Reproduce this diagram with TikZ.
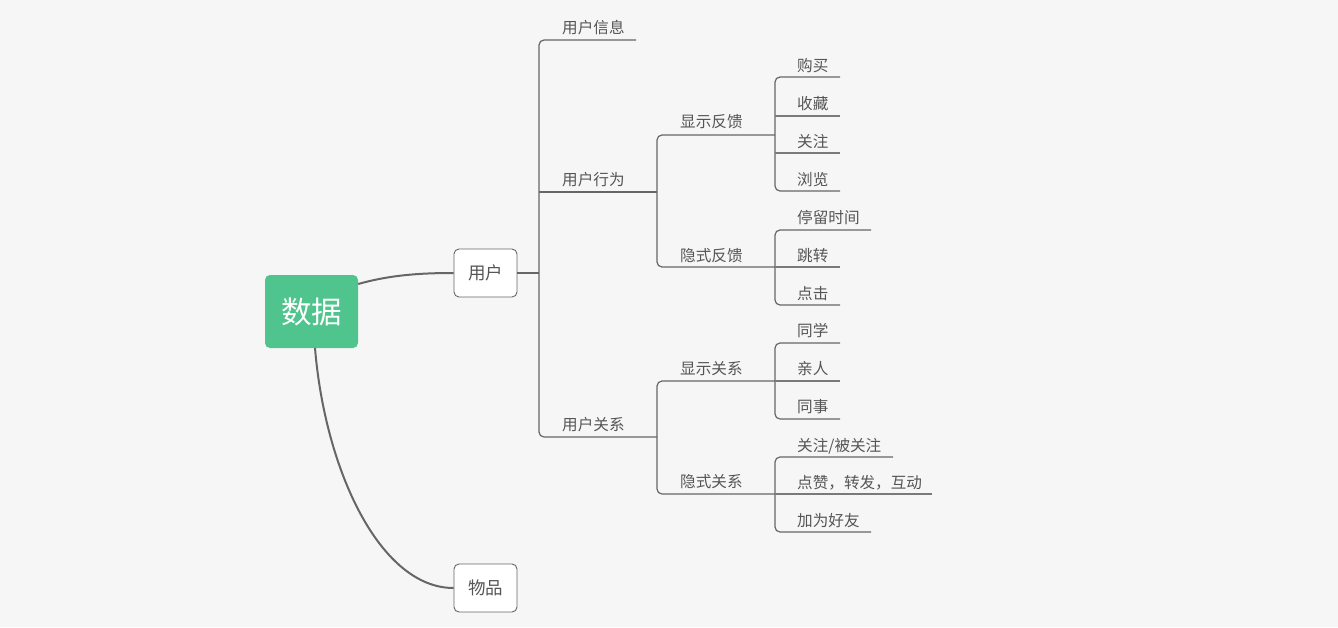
\documentclass[tikz,border=0pt]{standalone}
\usepackage{fontspec}
\newfontfamily\cjk{Noto Sans CJK SC}
\definecolor{bg}{HTML}{F6F6F6}
\definecolor{rootgreen}{HTML}{50C48D}
\definecolor{txt}{HTML}{555555}
\definecolor{ln}{HTML}{666666}
\definecolor{lnlight}{HTML}{7A7A7A}
\begin{document}
\begin{tikzpicture}[x=1pt,y=-1pt,
  lbl/.style={anchor=west,inner sep=0pt,text=txt,font=\cjk\fontsize{15.6}{18}\selectfont},
  branch/.style={draw=ln,line width=1.2pt,rounded corners=5pt},
  thin/.style={draw=ln,line width=1.2pt},
  leafline/.style={draw=lnlight,line width=1.1pt},
  mainline/.style={draw=ln,line width=2pt},
  topbox/.style={draw=ln,fill=white,line width=0.9pt,rounded corners=5pt,minimum width=63pt,minimum height=48pt,inner sep=0pt,text=txt,font=\cjk\fontsize{17.5}{20}\selectfont},
  rootbox/.style={fill=rootgreen,rounded corners=5pt,minimum width=93pt,minimum height=73pt,inner sep=0pt,text=white,font=\cjk\fontsize{30.5}{34}\selectfont}]
\useasboundingbox (0,0) rectangle (1338,627);
\fill[bg] (0,0) rectangle (1338,627);

% main nodes
\node[rootbox] (root) at (311.5,311.5) {数据};
\node[topbox] (user) at (485.5,273) {用户};
\node[topbox] (item) at (485.5,588) {物品};

\draw[mainline] (root.north east |- 0,284) .. controls (390,275) and (420,273) .. (user.west);
\draw[mainline] (315,348) .. controls (325,470) and (380,588) .. (item.west);

% level 2
\coordinate (v2) at (539,273);
\draw[thin] (user.east) -- (v2);
\node[lbl] (info) at (562,28) {用户信息};
\node[lbl] (behav) at (562,180) {用户行为};
\node[lbl] (rel) at (562,425) {用户关系};
\coordinate (infoE) at (636,40);
\coordinate (behavE) at (657,192);
\coordinate (relE) at (657,437);
\draw[branch] (infoE) -- (539,40) -- (539,437) -- (relE);
\draw[thin] (539,192) -- (behavE);

% level 3 under 用户行为
\node[lbl] (xsfk) at (680,122) {显示反馈};
\node[lbl] (ysfk) at (680,256) {隐式反馈};
\coordinate (xsfkE) at (775,135);
\coordinate (ysfkE) at (775,267);
\draw[branch] (xsfkE) -- (657,135) -- (657,267) -- (ysfkE);

% level 3 under 用户关系
\node[lbl] (xsgx) at (680,369) {显示关系};
\node[lbl] (ysgx) at (680,482) {隐式关系};
\coordinate (xsgxE) at (775,381);
\coordinate (ysgxE) at (775,494);
\draw[branch] (xsgxE) -- (657,381) -- (657,494) -- (ysgxE);

% level 4 : 显示反馈
\node[lbl] (gm) at (797,66) {购买};
\node[lbl] (sc) at (797,104) {收藏};
\node[lbl] (gz) at (797,142) {关注};
\node[lbl] (ll) at (797,180) {浏览};
\draw[branch] (840,77) -- (775,77) -- (775,191) -- (840,191);
\draw[leafline] (775,116) -- (840,116);
\draw[leafline] (775,153) -- (840,153);

% level 4 : 隐式反馈
\node[lbl] (tlsj) at (797,218) {停留时间};
\node[lbl] (tz) at (797,256) {跳转};
\node[lbl] (dj) at (797,294) {点击};
\draw[branch] (871,230) -- (775,230) -- (775,305) -- (840,305);
\draw[leafline] (775,267) -- (840,267);

% level 4 : 显示关系
\node[lbl] (tx) at (797,331) {同学};
\node[lbl] (qr) at (797,369) {亲人};
\node[lbl] (ts) at (797,407) {同事};
\draw[branch] (840,343) -- (775,343) -- (775,419) -- (840,419);
\draw[leafline] (775,381) -- (840,381);

% level 4 : 隐式关系
\node[lbl] (gzbgz) at (797,446) {关注/被关注};
\node[lbl] (dz) at (797,483) {点赞，转发，互动};
\node[lbl] (jwhy) at (797,521) {加为好友};
\draw[branch] (893,457) -- (775,457) -- (775,532) -- (871,532);
\draw[leafline] (775,494) -- (932,494);
\end{tikzpicture}
\end{document}
